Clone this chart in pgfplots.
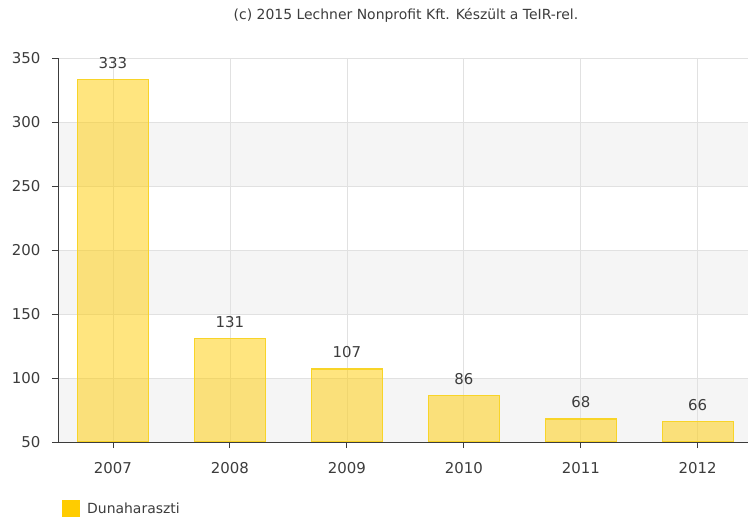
\documentclass[border=0pt]{standalone}
\usepackage{pgfplots}
\pgfplotsset{compat=1.18}
\usepackage{fontspec}
\setmainfont{DejaVu Sans}
\definecolor{barY}{RGB}{255,204,0}
\definecolor{barE}{RGB}{248,212,40}
\definecolor{txt}{RGB}{60,60,60}
\definecolor{band}{RGB}{245,245,245}
\definecolor{gridc}{RGB}{225,225,225}
\begin{document}
\begin{tikzpicture}
\begin{axis}[
  set layers=standard,
  at={(0,0)}, anchor=south west,
  scale only axis, width=690bp, height=384bp,
  xmin=-0.47, xmax=5.43, ymin=50, ymax=350,
  ytick={50,100,...,350},
  xtick={0,1,2,3,4,5},
  xticklabels={2007,2008,2009,2010,2011,2012},
  axis x line*=bottom, axis y line*=left,
  axis line style={txt, line width=0.9pt, -},
  tick style={txt, line width=0.9pt},
  tick align=outside, major tick length=6bp,
  x tick label style={font=\fontsize{15}{17}\selectfont, text=txt, yshift=-11bp},
  y tick label style={font=\fontsize{15}{17}\selectfont, text=txt, xshift=-8bp},
  /pgf/number format/assume math mode=true,
  grid=major, major grid style={gridc, line width=0.7pt},
  ybar, bar width=0.61,
  nodes near coords,
  every node near coord/.append style={font=\fontsize{15}{17}\selectfont, text=txt, yshift=7bp},
  legend style={at={(0,0)}, anchor=north west, xshift=1bp, yshift=-56bp, draw=none, fill=none,
    font=\fontsize{14}{16}\selectfont, text=txt},
  legend image code/.code={\fill[barY, fill opacity=1, draw=none] (0bp,-8bp) rectangle (18bp,9bp);},
  clip mode=individual,
]
\begin{pgfonlayer}{axis background}
\fill[band] (rel axis cs:0,0.6667) rectangle (rel axis cs:1,0.8333);
\fill[band] (rel axis cs:0,0.3333) rectangle (rel axis cs:1,0.5);
\fill[band] (rel axis cs:0,0) rectangle (rel axis cs:1,0.1667);
\end{pgfonlayer}
\addplot[fill=barY, fill opacity=0.5, draw=barE, line width=1.1pt, text opacity=1]
  coordinates {(0,333) (1,131) (2,107) (3,86) (4,68) (5,66)};
\addlegendentry{\hspace{5bp}Dunaharaszti}
\end{axis}
\node[font=\fontsize{14}{16}\selectfont, text=txt] at (348bp,427bp) {(c) 2015 Lechner Nonprofit Kft. Készült a TeIR-rel.};
\pgfresetboundingbox
\path (-58bp,-77bp) rectangle (690bp,442bp);
\end{tikzpicture}
\end{document}
